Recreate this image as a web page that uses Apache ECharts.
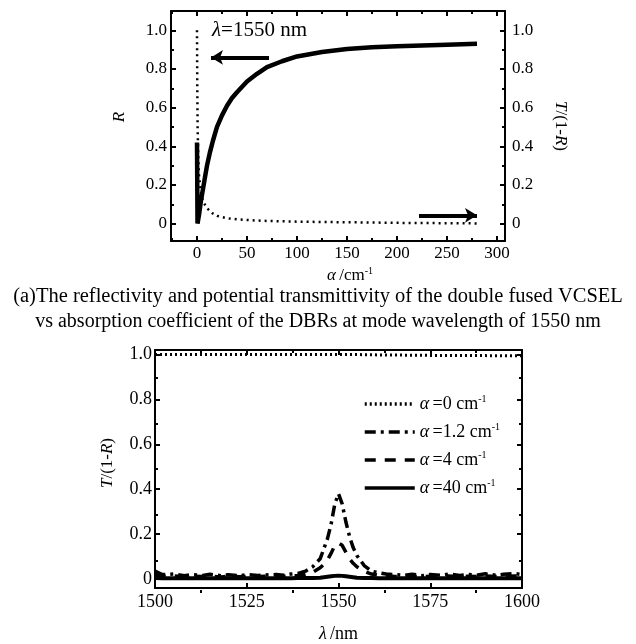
<!DOCTYPE html>
<html><head><meta charset="utf-8">
<script src="https://cdn.jsdelivr.net/npm/echarts@6/dist/echarts.min.js"></script>
<style>html,body{margin:0;padding:0;background:#fff}#c{width:636px;height:644px}</style>
</head><body><div id="c"></div>
<script>
// ---------- Top chart data (λ = 1550 nm) ----------
const alphaR = [0, 0.5, 1, 2, 4, 6, 8, 10, 13, 16, 20, 25, 30, 35, 40, 50, 60, 70, 85, 100, 125, 150, 175, 200, 225, 250, 280];
const reflectivity = [0.42, 0.0, 0.01, 0.045, 0.12, 0.18, 0.24, 0.3, 0.37, 0.43, 0.5, 0.56, 0.61, 0.65, 0.68, 0.735, 0.775, 0.81, 0.84, 0.865, 0.888, 0.903, 0.912, 0.918, 0.922, 0.926, 0.93];
const alphaT = [0, 0.3, 0.6, 1.2, 2, 4, 6, 10, 15, 20, 30, 40, 55, 70, 100, 150, 200, 250, 280];
const transTop = [1.0, 0.7, 0.5, 0.36, 0.25, 0.16, 0.115, 0.08, 0.055, 0.04, 0.028, 0.022, 0.017, 0.014, 0.01, 0.007, 0.004, 0.002, 0.001];
const topXTicks = [0, 50, 100, 150, 200, 250, 300];
const topXMinor = [-25, 25, 75, 125, 175, 225, 275];
const topYTicks = [0, 0.2, 0.4, 0.6, 0.8, 1.0];
const topYMinor = [0.1, 0.3, 0.5, 0.7, 0.9];

// ---------- Bottom chart data ----------
const wavelength = [1500,1502,1505,1508,1510,1513,1515,1518,1520,1523,1525,1528,1530,1533,1535,1537,1539,1541,1543,1545,1546,1547,1548,1549,1550,1551,1552,1553,1554,1555,1557,1559,1561,1563,1565,1568,1570,1573,1575,1578,1580,1583,1585,1588,1590,1593,1595,1598,1600];
const tA0 = [1.0,1.0,1.0,1.0,1.0,1.0,1.0,1.0,1.0,1.0,1.0,1.0,1.0,1.0,1.0,1.0,1.0,1.0,1.0,1.0,1.0,1.0,1.0,1.0,1.0,1.0,1.0,1.0,1.0,1.0,0.999,0.999,0.998,0.998,0.998,0.997,0.997,0.997,0.996,0.996,0.996,0.995,0.995,0.995,0.995,0.994,0.994,0.994,0.994];
const tA12 = [0.035,0.02,0.022,0.015,0.02,0.016,0.021,0.015,0.019,0.014,0.02,0.016,0.018,0.02,0.017,0.022,0.025,0.035,0.055,0.09,0.135,0.18,0.245,0.335,0.38,0.335,0.255,0.19,0.14,0.105,0.06,0.035,0.028,0.022,0.02,0.016,0.021,0.015,0.02,0.017,0.022,0.016,0.02,0.018,0.023,0.017,0.021,0.024,0.02];
const tA4 = [0.02,0.012,0.014,0.01,0.013,0.011,0.012,0.009,0.012,0.01,0.012,0.011,0.012,0.013,0.012,0.014,0.016,0.02,0.03,0.05,0.065,0.085,0.115,0.15,0.16,0.15,0.12,0.09,0.07,0.055,0.035,0.022,0.016,0.013,0.012,0.011,0.012,0.01,0.012,0.011,0.013,0.01,0.012,0.011,0.013,0.011,0.012,0.014,0.012];
const tA40 = [0.004,0.003,0.003,0.003,0.003,0.003,0.003,0.003,0.003,0.003,0.003,0.003,0.003,0.003,0.003,0.003,0.004,0.004,0.005,0.006,0.008,0.01,0.012,0.014,0.015,0.014,0.012,0.01,0.008,0.006,0.005,0.004,0.003,0.003,0.003,0.003,0.003,0.003,0.003,0.003,0.003,0.003,0.003,0.003,0.003,0.003,0.003,0.003,0.003];
const botXTicks = [1500, 1525, 1550, 1575, 1600];
const botXMinor = [1512.5, 1537.5, 1562.5, 1587.5];
const botYTicks = [0, 0.2, 0.4, 0.6, 0.8, 1.0];
const botYMinor = [0.1, 0.3, 0.5, 0.7, 0.9];

const FONT = '"Liberation Serif", "Times New Roman", serif';
const BLACK = '#000';
const fmt = v => (v === 0 ? '0' : v.toFixed(1));
const rich = (fs) => ({
  i: { fontStyle: 'italic', fontFamily: FONT, fontSize: fs, color: BLACK, lineHeight: fs + 2 },
  n: { fontFamily: FONT, fontSize: fs, color: BLACK, lineHeight: fs + 2 },
  s: { fontFamily: FONT, fontSize: Math.round(fs * 0.58), color: BLACK, lineHeight: Math.round(fs * 0.6), verticalAlign: 'top' }
});

function axis(gridIndex, position, min, max, o) {
  return {
    type: 'value', gridIndex, position, min, max,
    axisLine: { show: !!o.line, onZero: false, lineStyle: { color: BLACK, width: 2 } },
    axisTick: { show: true, inside: true, length: o.tickLen || 5, customValues: o.ticks, lineStyle: { color: BLACK, width: 2 } },
    axisLabel: o.labels ? { show: true, customValues: o.labels, formatter: o.fmt, color: BLACK, fontFamily: FONT, fontSize: o.fs || 17, margin: o.margin || 5 } : { show: false },
    splitLine: { show: false },
    name: o.name || '', nameLocation: 'middle', nameGap: o.nameGap || 20, nameRotate: o.nameRotate,
    nameTextStyle: o.name ? { rich: rich(o.nameFs || 17), padding: o.namePad || 0 } : undefined
  };
}

const TOP = { left: 171, top: 11, width: 334, height: 230 };
const BOT = { left: 155, top: 350, width: 367, height: 243 };
const tX = [-26, 308], tY = [-0.09, 1.1];
const bX = [1500, 1600], bY = [-0.04, 1.02];

const lineSeries = (name, xi, yi, xs, ys, ls) => ({
  name, type: 'line', xAxisIndex: xi, yAxisIndex: yi, showSymbol: false, symbol: 'none',
  color: BLACK, itemStyle: { color: BLACK },
  data: xs.map((x, i) => [x, ys[i]]), lineStyle: Object.assign({ color: BLACK }, ls)
});

const chart = echarts.init(document.getElementById('c'), null, { renderer: 'canvas' });
const sR = lineSeries('R', 0, 0, alphaR, reflectivity, { width: 4.5 });
sR.markLine = {
  silent: true, symbol: ['none', 'arrow'], symbolSize: [11, 12],
  lineStyle: { color: BLACK, width: 4, type: 'solid' }, label: { show: false },
  data: [[{ coord: [72, 0.86] }, { coord: [14, 0.86] }]]
};
const sT = lineSeries('T/(1-R)', 0, 1, alphaT, transTop, { width: 2.5, type: [2, 4] });
sT.markLine = {
  silent: true, symbol: ['none', 'arrow'], symbolSize: [11, 12],
  lineStyle: { color: BLACK, width: 4, type: 'solid' }, label: { show: false },
  data: [[{ coord: [222, 0.043] }, { coord: [280, 0.043] }]]
};

chart.setOption({
  animation: false,
  backgroundColor: '#fff',
  color: [BLACK],
  grid: [
    Object.assign({}, TOP), Object.assign({}, TOP),
    Object.assign({}, BOT), Object.assign({}, BOT)
  ],
  xAxis: [
    axis(0, 'bottom', tX[0], tX[1], { line: true, ticks: topXTicks, labels: topXTicks, fmt: v => String(v), margin: 4,
      name: '{i|α} {n|/cm}{s|-1}', nameGap: 25, namePad: [0, 0, 0, 24] }),
    axis(0, 'top', tX[0], tX[1], { line: true, ticks: topXTicks }),
    axis(1, 'bottom', tX[0], tX[1], { ticks: topXMinor, tickLen: 3 }),
    axis(1, 'top', tX[0], tX[1], { ticks: topXMinor, tickLen: 3 }),
    axis(2, 'bottom', bX[0], bX[1], { line: true, ticks: botXTicks, labels: botXTicks, fmt: v => String(v), fs: 18, margin: 5,
      name: '{i|λ} {n|/nm}', nameGap: 36, nameFs: 18 }),
    axis(2, 'top', bX[0], bX[1], { line: true, ticks: botXTicks }),
    axis(3, 'bottom', bX[0], bX[1], { ticks: botXMinor, tickLen: 3 }),
    axis(3, 'top', bX[0], bX[1], { ticks: botXMinor, tickLen: 3 })
  ],
  yAxis: [
    axis(0, 'left', tY[0], tY[1], { line: true, ticks: topYTicks, labels: topYTicks, fmt, margin: 4,
      name: '{i|R}', nameGap: 42, nameRotate: 90, namePad: [0, 0, 0, 18] }),
    axis(0, 'right', tY[0], tY[1], { line: true, ticks: topYTicks, labels: topYTicks, fmt, margin: 7,
      name: '{i|T}{n|/(1-}{i|R}{n|)}', nameGap: 46, nameRotate: -90 }),
    axis(1, 'left', tY[0], tY[1], { ticks: topYMinor, tickLen: 3 }),
    axis(1, 'right', tY[0], tY[1], { ticks: topYMinor, tickLen: 3 }),
    axis(2, 'left', bY[0], bY[1], { line: true, ticks: botYTicks, labels: botYTicks, fmt, fs: 18, margin: 3,
      name: '{i|T}{n|/(1-}{i|R}{n|)}', nameGap: 38, nameRotate: 90, nameFs: 17, namePad: [0, 0, 0, 12] }),
    axis(2, 'right', bY[0], bY[1], { line: true, ticks: botYTicks }),
    axis(3, 'left', bY[0], bY[1], { ticks: botYMinor, tickLen: 3 }),
    axis(3, 'right', bY[0], bY[1], { ticks: botYMinor, tickLen: 3 })
  ],
  legend: {
    orient: 'vertical', left: 358, top: 389, itemWidth: 50, itemHeight: 14, itemGap: 8,
    data: ['α=0', 'α=1.2', 'α=4', 'α=40'],
    itemStyle: { opacity: 0 },
    lineStyle: { width: 3.5 },
    formatter: name => '{i|α} {n|=' + name.split('=')[1] + ' cm}{s|-1}',
    textStyle: { rich: rich(18), lineHeight: 18 }
  },
  graphic: [
    { type: 'text', left: 212, top: 20, style: { text: '{i|λ}{n|=1550 nm}', rich: rich(21) } },
    { type: 'text', x: 318, y: 297, style: { text: '(a)The reflectivity and potential transmittivity of the double fused VCSEL', fontFamily: FONT, fontSize: 20.5, fill: BLACK, align: 'center', verticalAlign: 'middle' } },
    { type: 'text', x: 318, y: 322, style: { text: 'vs absorption coefficient of the DBRs at mode wavelength of 1550 nm', fontFamily: FONT, fontSize: 20, fill: BLACK, align: 'center', verticalAlign: 'middle' } }
  ],
  series: [
    sR, sT,
    lineSeries('α=0', 4, 4, wavelength, tA0, { width: 3, type: [2, 3] }),
    lineSeries('α=1.2', 4, 4, wavelength, tA12, { width: 3.5, type: [11, 5, 3, 5] }),
    lineSeries('α=4', 4, 4, wavelength, tA4, { width: 3.5, type: [11, 9] }),
    lineSeries('α=40', 4, 4, wavelength, tA40, { width: 4 })
  ]
});
</script></body></html>
